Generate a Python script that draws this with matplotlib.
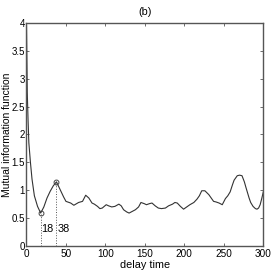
import matplotlib
matplotlib.use("Agg")
import matplotlib.pyplot as plt

plt.rcParams["font.family"] = ["Liberation Sans", "DejaVu Sans"]

# delay time vs mutual information
delay = [0, 1, 2, 3, 5, 7, 10, 14, 18, 22, 26, 30, 34, 38, 43, 47, 50, 56, 60,
         66, 71, 75, 79, 83, 86, 90, 93, 96, 101, 104, 108, 112, 117, 120, 123,
         127, 130, 134, 138, 142, 145, 149, 152, 156, 159, 163, 167, 171, 176,
         180, 185, 188, 191, 195, 199, 203, 207, 212, 216, 219, 222, 226, 231,
         234, 237, 240, 244, 248, 252, 255, 258, 261, 263, 267, 270, 273, 276,
         278, 282, 284, 287, 290, 292, 294, 296, 298, 300]
mi = [4.0, 2.75, 2.26, 1.85, 1.5, 1.2, 0.9, 0.71, 0.59, 0.70, 0.86, 0.98, 1.08,
      1.15, 1.0, 0.88, 0.80, 0.77, 0.73, 0.78, 0.80, 0.91, 0.86, 0.77, 0.75,
      0.71, 0.67, 0.68, 0.74, 0.72, 0.70, 0.71, 0.75, 0.72, 0.65, 0.61, 0.59,
      0.62, 0.65, 0.70, 0.78, 0.76, 0.74, 0.76, 0.77, 0.72, 0.68, 0.67, 0.68,
      0.72, 0.75, 0.78, 0.77, 0.71, 0.66, 0.70, 0.74, 0.78, 0.84, 0.90, 0.99,
      0.99, 0.92, 0.86, 0.80, 0.79, 0.77, 0.74, 0.85, 0.90, 0.97, 1.10, 1.18,
      1.26, 1.27, 1.26, 1.15, 1.05, 0.86, 0.78, 0.71, 0.67, 0.66, 0.68, 0.74,
      0.85, 0.97]

marks_x = [18, 38]
marks_y = [0.59, 1.15]
mark_labels = ["18", "38"]

fig = plt.figure(figsize=(2.73, 2.73), dpi=100)
ax = fig.add_axes([0.097, 0.099, 0.8675, 0.817])

ax.plot(delay, mi, color="#333333", lw=0.8)
for x, y, lab in zip(marks_x, marks_y, mark_labels):
    ax.plot([x, x], [0, y], ls=":", color="#555555", lw=0.7)
    ax.plot(x, y, "o", mfc="none", mec="#444444", ms=3.5, mew=0.7)
    ax.text(x + 1, 0.3, lab, fontsize=7.8, ha="left", va="center")

ax.set_xlim(0, 300)
ax.set_ylim(0, 4)
ax.set_xticks(range(0, 301, 50))
ax.set_yticks([0, 0.5, 1, 1.5, 2, 2.5, 3, 3.5, 4])
ax.set_yticklabels(["0", "0.5", "1", "1.5", "2", "2.5", "3", "3.5", "4"])
ax.tick_params(direction="in", top=True, right=True, labelsize=7.2,
               length=2.5, width=0.6, color="#555555", pad=2)
ax.tick_params(axis="y", labelsize=7, pad=1)
for s in ax.spines.values():
    s.set_color("#555555")
    s.set_linewidth(1.0)

ax.set_xlabel("delay time", fontsize=7.8, labelpad=1)
ax.set_ylabel("Mutual information function", fontsize=7.5)
ax.yaxis.set_label_coords(-0.0625, 0.5)
ax.set_title("(b)", fontsize=7.8, pad=6)

fig.savefig("out.png", dpi=100)
